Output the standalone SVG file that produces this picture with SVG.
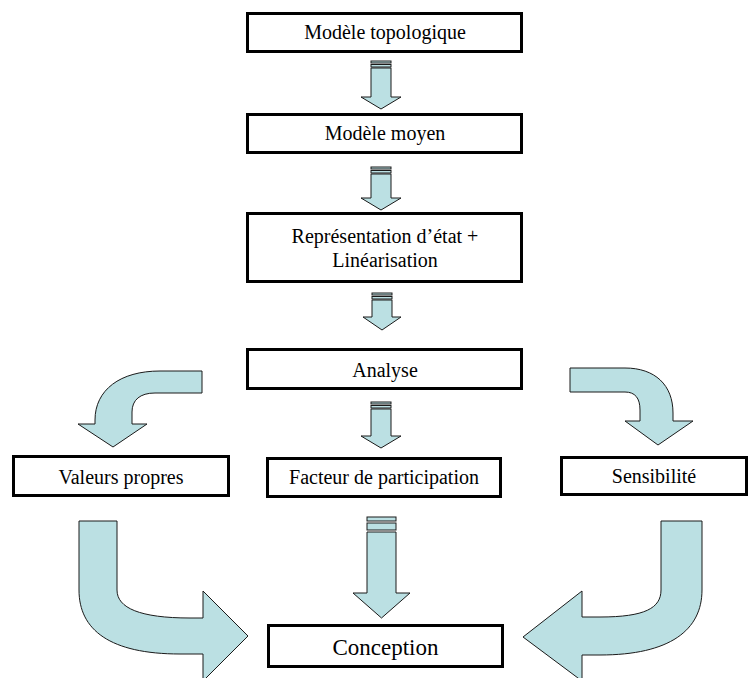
<svg xmlns="http://www.w3.org/2000/svg" width="750" height="678" viewBox="0 0 750 678">
<style>
.box{fill:#ffffff;stroke:#000000;stroke-width:3}
.t{font-family:"Liberation Serif","Times New Roman",serif;font-size:20px;fill:#000000;text-anchor:middle}
.tb{font-family:"Liberation Serif","Times New Roman",serif;font-size:23px;fill:#000000;text-anchor:middle}
.arr{fill:#bbe0e3;stroke:#1a1a1a;stroke-width:1;stroke-linejoin:miter}
</style>
<rect width="750" height="678" fill="#ffffff"/>
<g id="connectors">
  <g id="a1">
    <rect class="arr" x="371" y="61" width="20" height="2"/>
    <rect class="arr" x="371" y="64.5" width="20" height="2.5"/>
    <path class="arr" d="M371,68 L391,68 L391,97 L401,97 L381,109 L361,97 L371,97 Z"/>
  </g>
  <g id="a2">
    <rect class="arr" x="371" y="167" width="20" height="2"/>
    <rect class="arr" x="371" y="170.5" width="20" height="2.5"/>
    <path class="arr" d="M371,174 L391,174 L391,198 L401,198 L381,210 L361,198 L371,198 Z"/>
  </g>
  <g id="a3">
    <rect class="arr" x="372" y="293" width="20" height="2"/>
    <rect class="arr" x="372" y="296.5" width="20" height="2.5"/>
    <path class="arr" d="M372,300 L392,300 L392,317 L401,317 L382,330 L363,317 L372,317 Z"/>
  </g>
  <g id="a4">
    <rect class="arr" x="371" y="402" width="20" height="2"/>
    <rect class="arr" x="371" y="405.5" width="20" height="2.5"/>
    <path class="arr" d="M371,409 L391,409 L391,436 L401,436 L381,448 L361,436 L371,436 Z"/>
  </g>
  <g id="a5">
    <rect class="arr" x="367" y="517" width="29" height="4"/>
    <rect class="arr" x="367" y="523" width="29" height="7"/>
    <path class="arr" d="M367,532 L396,532 L396,593 L410,593 L381.5,618 L353,593 L367,593 Z"/>
  </g>
  <path id="c-left-top" class="arr" d="M202,371 L160,371 C120,371 95,390 95,420 L95,424 L78,424 L113,447 L147,424 L132,424 L132,412 C132,400 140,393 155,393 L202,393 Z"/>
  <path id="c-right-top" class="arr" d="M570,368 L625,368 C655,368 673,385 673,413 L673,421 L693,421 L658,445 L625,421 L640,421 L640,410 C640,398 635,392 625,392 L570,392 Z"/>
  <path id="c-left-bottom" class="arr" d="M79,521 L117,521 L117,590 C117,608 140,618 190,618 L203,618 L203,591 L248,636 L203,681 L203,654 L180,654 C110,654 79,630 79,590 Z"/>
  <path id="c-right-bottom" class="arr" d="M661,521 L702,521 L702,590 C702,630 670,655 600,655 L582,655 L582,681 L523,637 L582,591 L582,617 L600,617 C645,617 661,608 661,590 Z"/>
</g>
<g id="n1"><rect class="box" x="247.5" y="13.5" width="274" height="38"/><text class="t" x="385" y="39">Modèle topologique</text></g>
<g id="n2"><rect class="box" x="247.5" y="114.5" width="274" height="38"/><text class="t" x="385" y="140">Modèle moyen</text></g>
<g id="n3"><rect class="box" x="247.5" y="213.5" width="274" height="68"/><text class="t" x="385" y="243">Représentation d’état +</text><text class="t" x="385" y="267">Linéarisation</text></g>
<g id="n4"><rect class="box" x="247.5" y="349.5" width="274" height="39"/><text class="t" x="385" y="377">Analyse</text></g>
<g id="n5"><rect class="box" x="13.5" y="456.5" width="215" height="39"/><text class="t" x="121" y="484">Valeurs propres</text></g>
<g id="n6"><rect class="box" x="267.5" y="458.5" width="233" height="38"/><text class="t" x="384" y="484">Facteur de participation</text></g>
<g id="n7"><rect class="box" x="561.5" y="457.5" width="185" height="37"/><text class="t" x="654" y="483">Sensibilité</text></g>
<g id="n8"><rect class="box" x="268.5" y="625.5" width="234" height="41"/><text class="tb" x="385.5" y="655">Conception</text></g>
</svg>
